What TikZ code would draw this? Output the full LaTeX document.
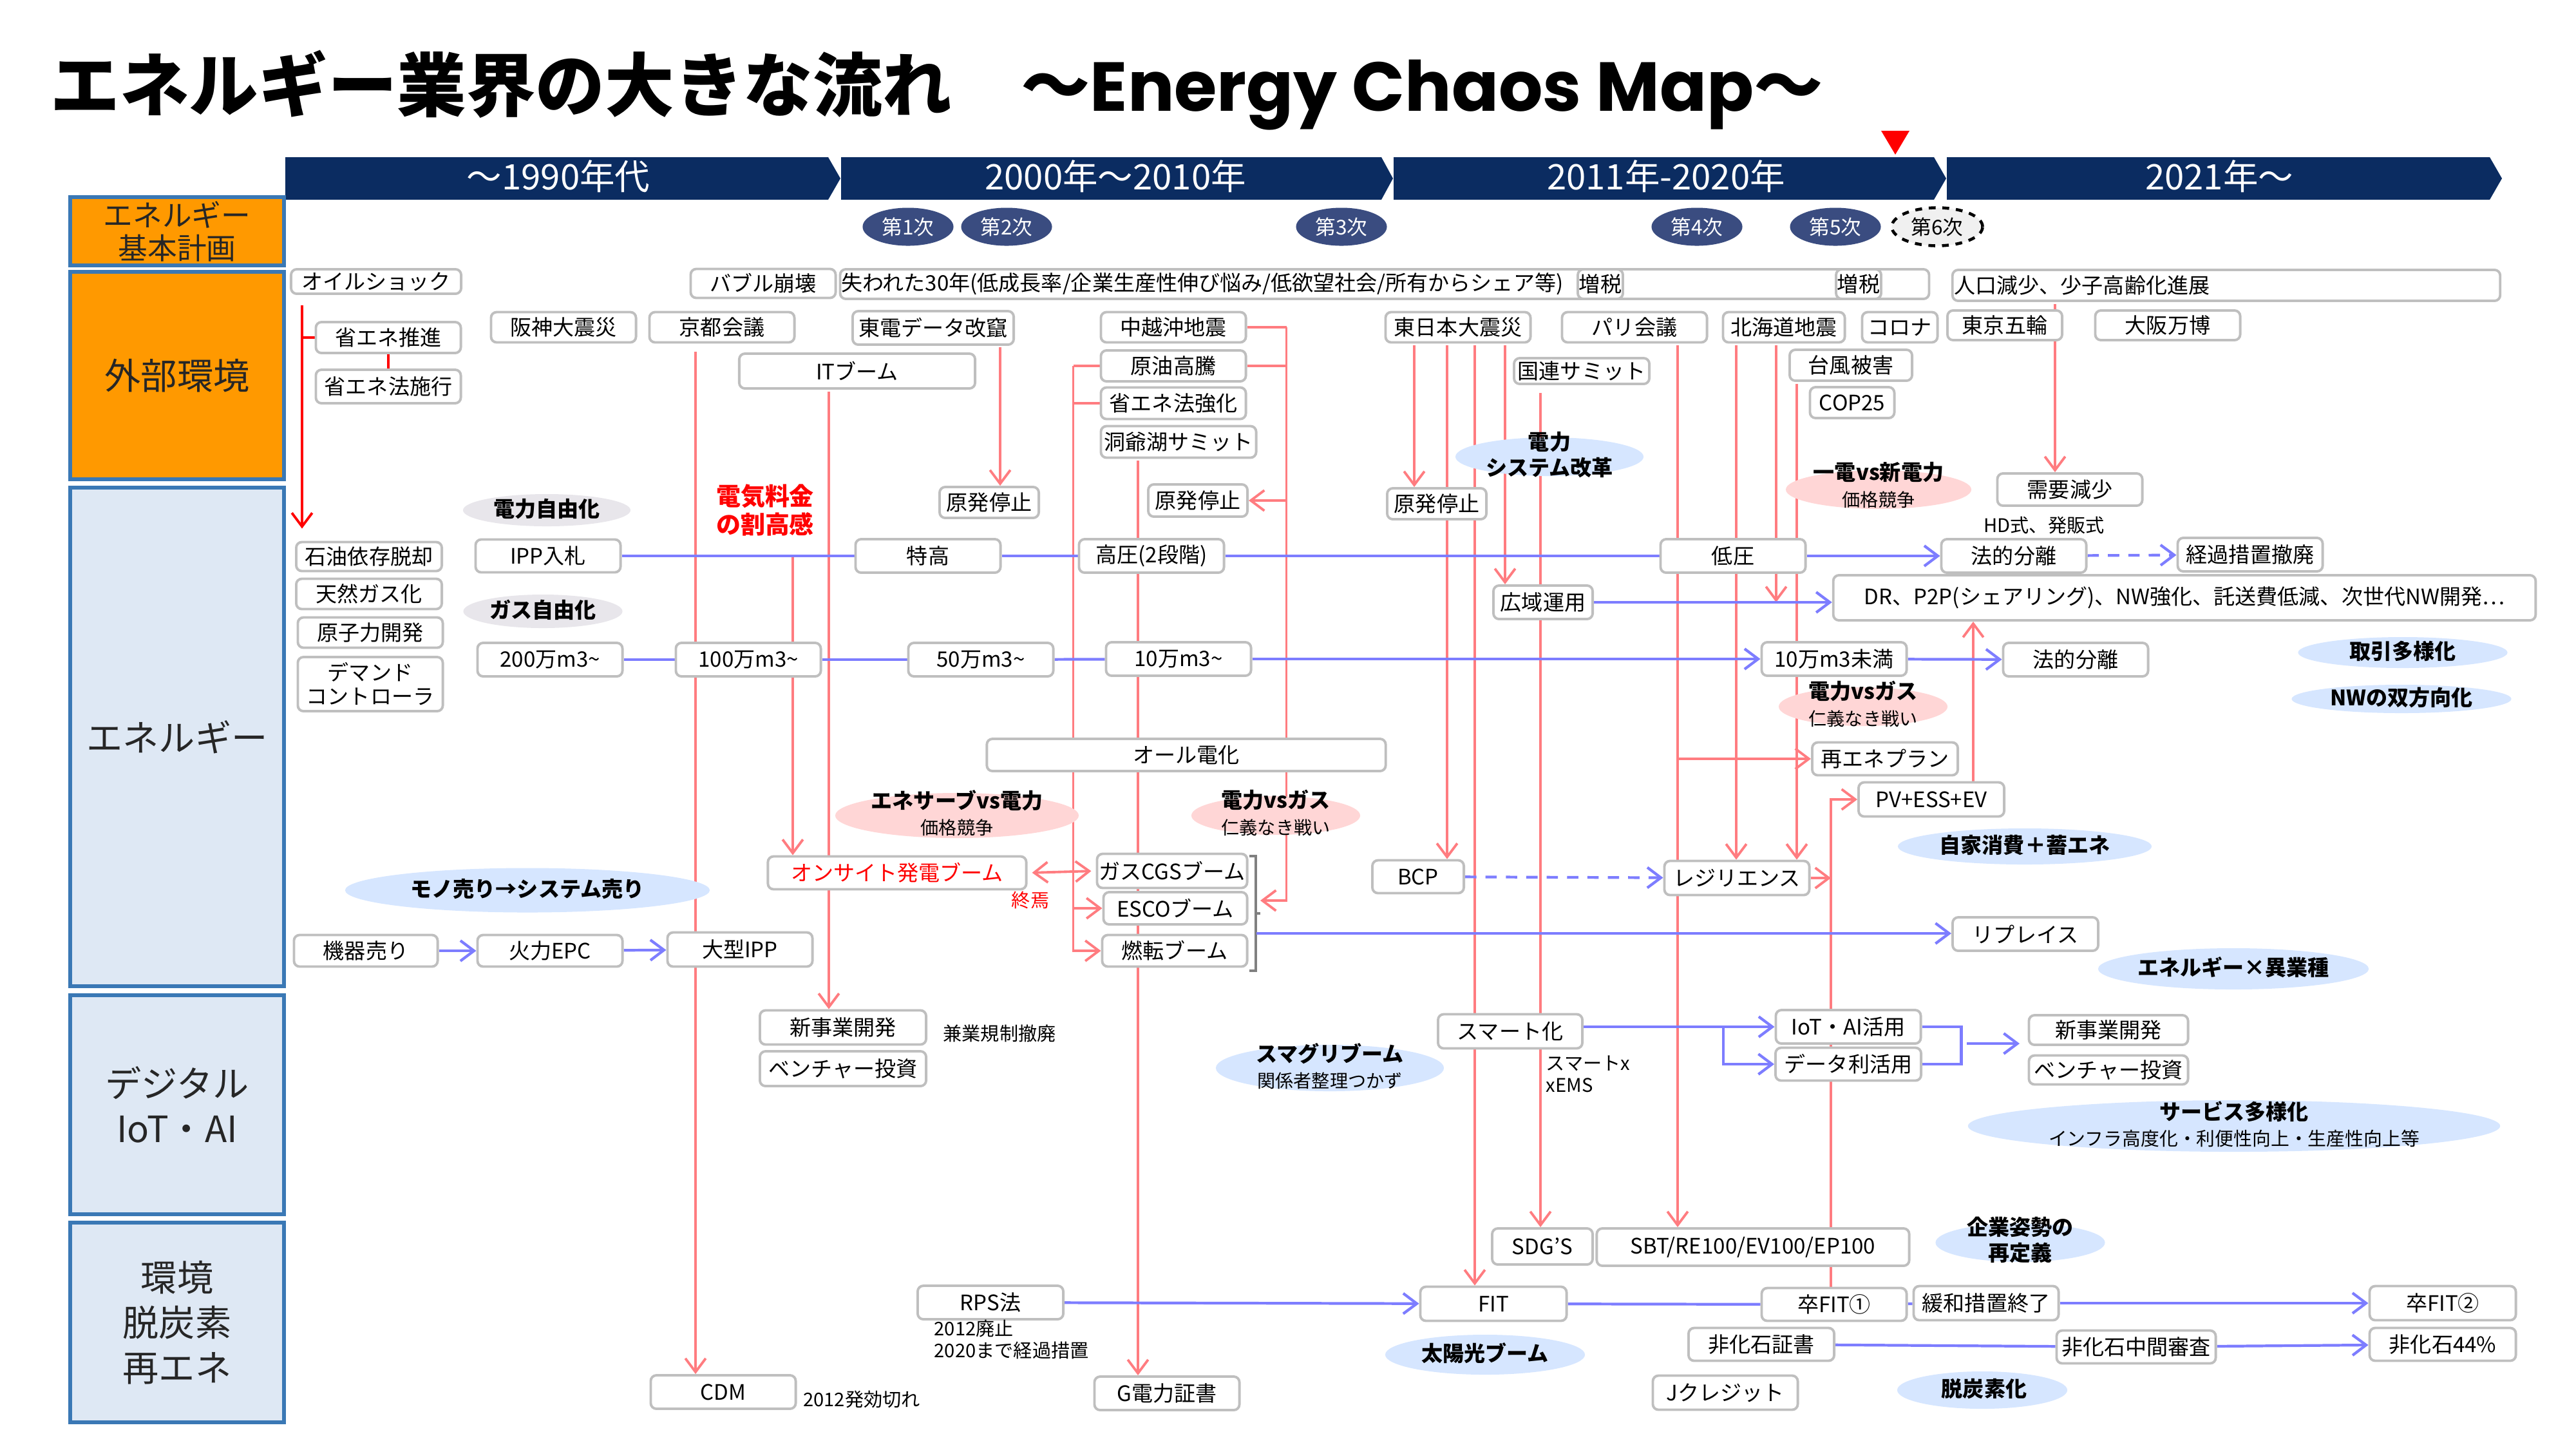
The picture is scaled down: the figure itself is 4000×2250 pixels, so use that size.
\documentclass[tikz,border=0pt]{standalone}
\usepackage{fontspec}
\setmainfont{Noto Sans CJK JP}
\newfontfamily\latinttl{Poppins}
\usetikzlibrary{shapes.geometric,arrows.meta,calc}

\definecolor{barnavy}{RGB}{11,44,97}
\definecolor{plannavy}{RGB}{58,76,128}
\definecolor{catblue}{RGB}{58,120,181}
\definecolor{catorange}{RGB}{255,153,0}
\definecolor{catpale}{RGB}{222,232,244}
\definecolor{boxgray}{RGB}{191,191,191}
\definecolor{evred}{RGB}{255,124,128}
\definecolor{flowblue}{RGB}{125,125,255}
\definecolor{blueedge}{RGB}{214,230,255}
\definecolor{bluecore}{RGB}{150,194,255}
\definecolor{pinkedge}{RGB}{255,214,214}
\definecolor{pinkcore}{RGB}{255,135,138}
\definecolor{grayedge}{RGB}{232,230,235}
\definecolor{graycore}{RGB}{176,170,184}
\definecolor{txtdark}{RGB}{38,38,38}

\newcommand{\boxfont}{\fontsize{9.4}{11}\selectfont}
\newcommand{\blobsub}[1]{{\mdseries\fontsize{8}{9.5}\selectfont #1}}

\pgfdeclarelayer{background}
\pgfsetlayers{background,main}

\begin{document}
\begin{tikzpicture}[x=0.01cm, y=-0.01cm,
    >={Straight Barb[length=6pt,width=9pt]},
    box/.style={draw=boxgray, line width=1.1pt, rounded corners=2.5pt, fill=white, inner sep=0pt,
        minimum width=2.25cm, minimum height=0.50cm, font=\boxfont},
    cat/.style={draw=catblue, line width=1.7pt, minimum width=3.31cm, inner sep=0pt, align=center,
        text=txtdark, font=\fontsize{16}{20}\selectfont},
    era/.style={text=white, inner sep=0pt, font=\fontsize{15.5}{18}\selectfont},
    plan/.style={ellipse, fill=plannavy, text=white, minimum width=1.41cm, minimum height=0.59cm,
        inner sep=0pt, font=\fontsize{9}{10}\selectfont},
    blueblob/.style={ellipse, inner sep=0pt, left color=blueedge, middle color=bluecore, right color=blueedge},
    redblob/.style={ellipse, inner sep=0pt, left color=pinkedge, middle color=pinkcore, right color=pinkedge},
    grayblob/.style={ellipse, inner sep=0pt, left color=grayedge, middle color=graycore, right color=grayedge},
    blobtext/.style={inner sep=0pt, align=center, font=\bfseries\fontsize{9.4}{11.5}\selectfont},
    note/.style={inner sep=0pt, align=left, font=\fontsize{8.3}{9.7}\selectfont},
    ev/.style={draw=evred, line width=1.1pt},
    flow/.style={draw=flowblue, line width=1.2pt},
    oilred/.style={draw=red, line width=1.1pt},
    brk/.style={draw=gray, line width=1pt}]

    \useasboundingbox (0,0) rectangle (4000,2250);

    % Title and time line
    \node[anchor=west, inner sep=0pt, font=\bfseries\fontsize{30.6}{34}\selectfont] (title) at (78,140)
        {エネルギー業界の大きな流れ　～{\latinttl\bfseries Energy Chaos Map}～};
    \fill[red] (2921,203) -- (2965,203) -- (2943,240) -- cycle;
    \fill[barnavy] (443,244) -- (1286,244) -- (1305,277) -- (1286,310) -- (443,310) -- cycle;
    \fill[barnavy] (1306,244) -- (2145,244) -- (2163,277) -- (2145,310) -- (1306,310) -- cycle;
    \fill[barnavy] (2164,244) -- (3003,244) -- (3022,277) -- (3003,310) -- (2164,310) -- cycle;
    \fill[barnavy] (3023,244) -- (3866,244) -- (3885,277) -- (3866,310) -- (3023,310) -- cycle;
    \node[era] (era1) at (867,274) {～1990年代};
    \node[era] (era2) at (1732,274) {2000年～2010年};
    \node[era] (era3) at (2587,274) {2011年-2020年};
    \node[era] (era4) at (3446,274) {2021年～};

    % Basic energy plans
    \node[plan] (plan1) at (1410,352) {第1次};
    \node[plan] (plan2) at (1563,352) {第2次};
    \node[plan] (plan3) at (2083,352) {第3次};
    \node[plan] (plan4) at (2635,352) {第4次};
    \node[plan] (plan5) at (2850,352) {第5次};
    \node[plan, fill=gray!12, draw=black, dashed, line width=1.3pt, text=black] (plan6) at (3008,352) {第6次};

    % Categories
    \node[cat, fill=catorange, minimum height=1.06cm, font=\fontsize{13}{14.5}\selectfont] (kihon) at (275,359) {エネルギー\\基本計画};
    \node[cat, fill=catorange, minimum height=3.21cm] (gaibu) at (275,583) {外部環境};
    \node[cat, fill=catpale, minimum height=7.74cm] (energy) at (275,1144) {エネルギー};
    \node[cat, fill=catpale, minimum height=3.40cm] (digital) at (275,1715) {デジタル\\IoT・AI};
    \node[cat, fill=catpale, minimum height=3.09cm] (kankyo) at (275,2053) {環境\\脱炭素\\再エネ};

    % External events
    \node[box, minimum width=2.64cm, minimum height=0.38cm] (oil) at (584,437) {オイルショック};
    \node[box, minimum height=0.45cm] (bubble) at (1185,440) {バブル崩壊};
    \node[box, minimum width=16.9cm, minimum height=0.46cm] (lost) at (2150,441) {};
    \node[anchor=west, inner sep=0pt, font=\boxfont] (lostT) at ($(lost.west)+(3,0)$)
        {失われた30年(低成長率/企業生産性伸び悩み/低欲望社会/所有からシェア等)};
    \node[box, minimum width=0.70cm, minimum height=0.46cm] (tax1) at (2485,441) {増税};
    \node[box, minimum width=0.70cm, minimum height=0.46cm] (tax2) at (2886,441) {増税};
    \node[box, minimum width=8.5cm, minimum height=0.48cm] (jinko) at (3457,443) {};
    \node[anchor=west, inner sep=0pt, font=\boxfont] (jinkoT) at ($(jinko.west)+(4,0)$) {人口減少、少子高齢化進展};

    \node[box, minimum height=0.48cm] (shoene) at (603,524) {省エネ推進};
    \node[box, minimum height=0.52cm] (shoeneho) at (603,600) {省エネ法施行};
    \node[box, minimum height=0.47cm] (hanshin) at (875,508) {阪神大震災};
    \node[box, minimum height=0.47cm] (kyoto) at (1121,508) {京都会議};
    \node[box, minimum width=2.50cm, minimum height=0.52cm] (toden) at (1449,509) {東電データ改竄};
    \node[box, minimum height=0.47cm] (chuetsu) at (1822,508) {中越沖地震};
    \node[box, minimum height=0.47cm] (shinsai) at (2264,508) {東日本大震災};
    \node[box, minimum height=0.47cm] (pari) at (2538,508) {パリ会議};
    \node[box, minimum width=1.89cm, minimum height=0.47cm] (hokkaido) at (2770,508) {北海道地震};
    \node[box, minimum width=1.17cm, minimum height=0.47cm] (corona) at (2950,508) {コロナ};
    \node[box, minimum width=1.78cm, minimum height=0.46cm] (gorin) at (3113,505) {東京五輪};
    \node[box, minimum height=0.46cm] (banpaku) at (3366,505) {大阪万博};

    \node[box, minimum width=3.66cm, minimum height=0.54cm] (itboom) at (1331,576) {ITブーム};
    \node[box, minimum height=0.48cm] (genyu) at (1822,568) {原油高騰};
    \node[box, minimum height=0.49cm] (shoenekyoka) at (1822,626) {省エネ法強化};
    \node[box, minimum width=2.41cm, minimum height=0.49cm] (toya) at (1830,686) {洞爺湖サミット};
    \node[box, minimum width=2.10cm, minimum height=0.40cm] (kokuren) at (2456,576) {国連サミット};
    \node[box, minimum width=1.90cm, minimum height=0.48cm] (taifu) at (2874,567) {台風被害};
    \node[box, minimum width=1.31cm, minimum height=0.48cm] (cop) at (2876,625) {COP25};

    \node[blueblob, minimum width=2.92cm, minimum height=0.60cm] (kaikaku) at (2406,709) {};
    \node[blobtext] (kaikakuT) at (2406,706) {電力\\システム改革};
    \node[redblob, minimum width=2.88cm, minimum height=0.60cm] (shinden) at (2917,760) {};
    \node[blobtext] (shindenT) at (2917,753) {一電vs新電力\\\blobsub{価格競争}};
    \node[box, minimum height=0.50cm] (juyo) at (3214,760) {需要減少};
    \node[note] (hd) at (3174,815) {HD式、発販式};

    % Energy
    \node[grayblob, minimum width=2.60cm, minimum height=0.50cm] (denjiyu) at (849,792) {};
    \node[blobtext] (denjiyuT) at (849,790) {電力自由化};
    \node[inner sep=0pt, align=center, text=red, font=\bfseries\fontsize{10.8}{12.3}\selectfont] (warudaka) at (1188,792) {電気料金\\の割高感};
    \node[box, minimum width=1.54cm, minimum height=0.48cm] (genpatsu1) at (1536,780) {原発停止};
    \node[box, minimum width=1.54cm, minimum height=0.50cm] (genpatsu2) at (1860,777) {原発停止};
    \node[box, minimum width=1.54cm, minimum height=0.48cm] (genpatsu3) at (2231,782) {原発停止};

    \node[box, minimum width=2.26cm, minimum height=0.45cm] (sekiyu) at (573,864) {石油依存脱却};
    \node[box, minimum width=2.26cm, minimum height=0.47cm] (tennen) at (573,922) {天然ガス化};
    \node[box, minimum height=0.47cm] (genshi) at (575,982) {原子力開発};
    \node[box, minimum height=0.84cm, align=center, font=\fontsize{9.4}{10.5}\selectfont] (demand) at (575,1062) {デマンド\\コントローラ};
    \node[box, minimum height=0.51cm] (ipp) at (851,863) {IPP入札};
    \node[grayblob, minimum width=2.47cm, minimum height=0.52cm] (gasjiyu) at (843,949) {};
    \node[blobtext] (gasjiyuT) at (843,947) {ガス自由化};
    \node[box, minimum height=0.52cm] (man200) at (854,1024) {200万m3\textasciitilde};

    \node[box, minimum height=0.52cm] (tokko) at (1441,863) {特高};
    \node[box, minimum height=0.52cm] (koatsu) at (1788,863) {高圧(2段階)};
    \node[box, minimum height=0.52cm] (teiatsu) at (2691,863) {低圧};
    \node[box, minimum height=0.52cm] (bunri1) at (3127,863) {法的分離};
    \node[box, minimum height=0.52cm] (keika) at (3494,861) {経過措置撤廃};
    \node[box, minimum width=1.54cm, minimum height=0.52cm] (koiki) at (2396,935) {広域運用};
    \node[box, minimum width=10.9cm, minimum height=0.70cm] (dr) at (3392,928)
        {DR、P2P(シェアリング)、NW強化、託送費低減、次世代NW開発…};

    \node[box, minimum height=0.52cm] (man100) at (1162,1024) {100万m3\textasciitilde};
    \node[box, minimum height=0.52cm] (man50) at (1523,1024) {50万m3\textasciitilde};
    \node[box, minimum height=0.52cm] (man10) at (1830,1023) {10万m3\textasciitilde};
    \node[box, minimum height=0.52cm] (miman) at (2848,1023) {10万m3未満};
    \node[box, minimum height=0.52cm] (bunri2) at (3223,1024) {法的分離};
    \node[redblob, minimum width=2.62cm, minimum height=0.60cm] (gasvs) at (2893,1097) {};
    \node[blobtext] (gasvsT) at (2893,1093) {電力vsガス\\\blobsub{仁義なき戦い}};
    \node[blueblob, minimum width=3.25cm, minimum height=0.48cm] (torihiki) at (3731,1013) {};
    \node[blobtext] (torihikiT) at (3731,1011) {取引多様化};
    \node[blueblob, minimum width=3.41cm, minimum height=0.44cm] (sohoko) at (3729,1085) {};
    \node[blobtext] (sohokoT) at (3729,1083) {NWの双方向化};

    \node[box, minimum width=6.19cm, minimum height=0.50cm] (allden) at (1842,1172) {オール電化};
    \node[box, minimum width=2.26cm, minimum height=0.51cm] (saiene) at (2927,1178) {再エネプラン};
    \node[box, minimum width=2.26cm, minimum height=0.53cm] (pv) at (2999,1241) {PV+ESS+EV};
    \node[blueblob, minimum width=3.94cm, minimum height=0.56cm] (jika) at (3144,1314) {};
    \node[blobtext] (jikaT) at (3144,1312) {自家消費＋蓄エネ};

    \node[redblob, minimum width=3.78cm, minimum height=0.70cm] (eneserve) at (1486,1266) {};
    \node[blobtext] (eneserveT) at (1486,1262) {エネサーブvs電力\\\blobsub{価格競争}};
    \node[redblob, minimum width=2.62cm, minimum height=0.60cm] (gasvs2) at (1981,1266) {};
    \node[blobtext] (gasvs2T) at (1981,1262) {電力vsガス\\\blobsub{仁義なき戦い}};
    \node[box, minimum width=4.01cm, minimum height=0.51cm, text=red] (onsite) at (1393,1355) {オンサイト発電ブーム};
    \node[note, text=red] (shuen) at (1600,1397) {終焉};
    \node[box, minimum width=2.33cm, minimum height=0.53cm] (gascgs) at (1820,1352) {ガスCGSブーム};
    \node[box, minimum width=2.23cm, minimum height=0.50cm] (esco) at (1825,1410) {ESCOブーム};
    \node[box, minimum height=0.49cm] (nenten) at (1824,1476) {燃転ブーム};
    \node[blueblob, minimum width=5.66cm, minimum height=0.69cm] (monouri) at (819,1382) {};
    \node[blobtext] (monouriT) at (819,1380) {モノ売り→システム売り};
    \node[box, minimum width=2.23cm, minimum height=0.49cm] (kiki) at (568,1476) {機器売り};
    \node[box, minimum height=0.49cm] (karyoku) at (854,1476) {火力EPC};
    \node[box, minimum height=0.53cm] (ogata) at (1149,1474) {大型IPP};
    \node[box, minimum width=1.42cm, minimum height=0.51cm] (bcp) at (2202,1361) {BCP};
    \node[box, minimum height=0.53cm] (resilience) at (2697,1363) {レジリエンス};
    \node[box, minimum width=2.26cm, minimum height=0.52cm] (replace) at (3145,1450) {リプレイス};
    \node[blueblob, minimum width=4.2cm, minimum height=0.64cm] (ishu) at (3468,1504) {};
    \node[blobtext] (ishuT) at (3468,1502) {エネルギー×異業種};

    % Digital
    \node[box, minimum width=2.58cm, minimum height=0.53cm] (shinjigyo1) at (1309,1595) {新事業開発};
    \node[box, minimum width=2.58cm, minimum height=0.54cm] (venture1) at (1309,1659) {ベンチャー投資};
    \node[note] (kengyo) at (1552,1604) {兼業規制撤廃};
    \node[blueblob, minimum width=3.54cm, minimum height=0.72cm] (sumaguri) at (2065,1658) {};
    \node[blobtext] (sumaguriT) at (2065,1655) {スマグリブーム\\\blobsub{関係者整理つかず}};
    \node[box, minimum width=2.24cm, minimum height=0.53cm] (smart) at (2345,1601) {スマート化};
    \node[note, anchor=west] (xems) at (2400,1667) {スマートx\\xEMS};
    \node[box, minimum height=0.52cm] (iot) at (2870,1594) {IoT・AI活用};
    \node[box, minimum width=2.26cm, minimum height=0.51cm] (data) at (2870,1652) {データ利活用};
    \node[box, minimum width=2.47cm, minimum height=0.46cm] (shinjigyo2) at (3274,1599) {新事業開発};
    \node[box, minimum width=2.47cm, minimum height=0.45cm] (venture2) at (3274,1661) {ベンチャー投資};
    \node[blueblob, minimum width=8.26cm, minimum height=0.80cm] (service) at (3469,1748) {};
    \node[blobtext] (serviceT) at (3469,1745) {サービス多様化\\{\mdseries\fontsize{8.2}{10}\selectfont インフラ高度化・利便性向上・生産性向上等}};

    % Environment
    \node[box, minimum width=1.56cm, minimum height=0.56cm] (sdgs) at (2395,1935) {SDG'S};
    \node[box, minimum width=4.85cm, minimum height=0.58cm] (sbt) at (2722,1936) {SBT/RE100/EV100/EP100};
    \node[blueblob, minimum width=2.63cm, minimum height=0.60cm] (kigyo) at (3137,1929) {};
    \node[blobtext] (kigyoT) at (3137,1925) {企業姿勢の\\再定義};
    \node[box, minimum width=2.26cm, minimum height=0.52cm] (rps) at (1538,2022) {RPS法};
    \node[note, anchor=north west] (rpsnote) at (1450,2048) {2012廃止\\2020まで経過措置};
    \node[box, minimum width=2.27cm, minimum height=0.53cm] (fit) at (2319,2024) {FIT};
    \node[box, minimum height=0.51cm] (sotsufit1) at (2848,2025) {卒FIT①};
    \node[box, minimum height=0.53cm] (kanwa) at (3084,2023) {緩和措置終了};
    \node[box, minimum width=2.27cm, minimum height=0.53cm] (sotsufit2) at (3793,2023) {卒FIT②};
    \node[box, minimum width=2.26cm, minimum height=0.51cm] (hikaseki) at (2735,2087) {非化石証書};
    \node[box, minimum width=2.47cm, minimum height=0.51cm] (chukan) at (3317,2091) {非化石中間審査};
    \node[box, minimum width=2.27cm, minimum height=0.51cm] (hika44) at (3793,2087) {非化石44\%};
    \node[blueblob, minimum width=3.10cm, minimum height=0.62cm] (taiyo) at (2306,2103) {};
    \node[blobtext] (taiyoT) at (2306,2101) {太陽光ブーム};
    \node[box, minimum height=0.53cm] (jcredit) at (2679,2162) {Jクレジット};
    \node[blueblob, minimum width=2.64cm, minimum height=0.58cm] (datsu) at (3078,2158) {};
    \node[blobtext] (datsuT) at (3081,2156) {脱炭素化};
    \node[box, minimum height=0.52cm] (cdm) at (1123,2161) {CDM};
    \node[note] (cdmnote) at (1338,2172) {2012発効切れ};
    \node[box, minimum height=0.52cm] (gshosho) at (1812,2163) {G電力証書};

    % Arrows
    \begin{pgfonlayer}{background}
    % oil shock
    \coordinate (oilV) at ($(oil.south west)+(19,16)$);
    \draw[oilred, ->, shorten >=0.19cm] (oilV) -- (oilV |- sekiyu.north);
    \draw[oilred] (oilV |- shoene.west) -- (shoene.west);
    \draw[oilred] (shoene.south) -- (shoeneho.north);

    % events
    \draw[ev, ->] ($(kyoto.south)+(-41,13)$) -- ($(cdm.north)+(-43,0)$);
    \draw[ev, ->] ($(itboom.south)+(-44,3)$) -- ($(shinjigyo1.north)+(-22,0)$);
    \draw[ev, ->] ($(toden.south)+(104,2)$) -- ($(genpatsu1.north)+(17,0)$);
    \coordinate (crudeV) at ($(genyu.west)+(-41,0)$);
    \draw[ev] (genyu.west) -- (crudeV);
    \draw[ev] (shoenekyoka.west) -- (shoenekyoka.west -| crudeV);
    \draw[ev, ->] (crudeV) |- (nenten.west);
    \draw[ev, ->] (esco.west -| crudeV) -- (esco.west);
    \draw[ev, ->] ($(toya.south)+(-63,3)$) -- ($(gshosho.north)+(-45,0)$);
    \coordinate (quakeV) at ($(chuetsu.east)+(61,0)$);
    \coordinate (boomR) at (1957,1398);
    \draw[ev] (chuetsu.east) -- (quakeV);
    \draw[ev] (genyu.east) -- (genyu.east -| quakeV);
    \draw[ev, ->] (genpatsu2.east -| quakeV) -- (genpatsu2.east);
    \draw[ev, ->] (quakeV) |- (boomR);
    \draw[ev, ->] ($(shinsai.south)+(-68,3)$) -- ($(genpatsu3.north)+(-35,0)$);
    \draw[ev, ->] ($(shinsai.south)+(-17,3)$) -- ($(bcp.north)+(45,0)$);
    \draw[ev, ->] ($(shinsai.south)+(26,3)$) -- ($(fit.north)+(-29,0)$);
    \draw[ev, ->] ($(shinsai.south)+(73,3)$) -- ($(koiki.north)+(-59,0)$);
    \draw[ev, ->] ($(kokuren.south)+(-64,12)$) -- ($(sdgs.north)+(-3,0)$);
    \coordinate (pariV) at ($(pari.south)+(67,3)$);
    \draw[ev, ->] (pariV) -- ($(sbt.north)+(-117,0)$);
    \draw[ev, ->] (pariV |- saiene.west) -- (saiene.west);
    \draw[ev, ->] ($(hokkaido.south)+(-74,3)$) -- ($(resilience.north)+(-1,0)$);
    \coordinate (hokV) at ($(hokkaido.south)+(-12,3)$);
    \draw[ev, ->] (hokV) -- (hokV |- koiki.east);
    \draw[ev, ->] ($(taifu.south)+(-84,3)$) -- ($(resilience.north)+(93,0)$);
    \coordinate (pvV) at ($(sotsufit1.north)+(-5,0)$);
    \draw[ev, ->] (pvV) |- (pv.west);
    \draw[ev, ->] (resilience.east) -- (resilience.east -| pvV);
    \coordinate (drV) at ($(pv.north)+(65,0)$);
    \draw[ev, ->] (drV) -- (drV |- dr.south);
    \draw[ev, ->] ($(jinko.south)+(-266,3)$) -- ($(juyo.north)+(-23,0)$);
    \coordinate (priceV) at (1231,863);
    \draw[ev, ->] (priceV) -- (priceV |- onsite.north);
    \draw[ev, <->, shorten <=2pt, shorten >=2pt] (onsite.east) -- (gascgs.west);
    \draw[brk] (1940,1329) -- (1950,1329) -- (1950,1507) -- (1940,1507);
    \draw[brk] (1950,1418) -- (1957,1418);

    % flows
    \draw[flow] (ipp) -- (tokko);
    \draw[flow] (tokko) -- (koatsu);
    \draw[flow] (koatsu) -- (teiatsu);
    \draw[flow, ->] (teiatsu) -- (bunri1);
    \draw[flow, ->, dash pattern=on 5pt off 4pt] (bunri1) -- (keika);
    \draw[flow] (man200) -- (man100);
    \draw[flow] (man100) -- (man50);
    \draw[flow] (man50) -- (man10);
    \draw[flow, ->] (man10) -- (miman);
    \draw[flow, ->] (miman) -- (bunri2);
    \draw[flow, ->] (koiki.east) -- (koiki.east -| dr.west);
    \draw[flow, ->, dash pattern=on 5pt off 4pt] (bcp) -- (resilience);
    \draw[flow, ->] (kiki) -- (karyoku);
    \draw[flow, ->] (karyoku) -- (ogata);
    \coordinate (boomL) at (1951,1449);
    \draw[flow, ->] (boomL) -- (boomL -| replace.west);
    \draw[flow, ->] (rps) -- (fit);
    \draw[flow] (fit) -- (sotsufit1);
    \draw[flow] (sotsufit1) -- (kanwa);
    \draw[flow, ->] (kanwa) -- (sotsufit2);
    \draw[flow] (hikaseki) -- (chukan);
    \draw[flow, ->] (chukan) -- (hika44);
    \draw[flow, ->] (smart.east |- iot.west) -- (iot.west);
    \coordinate (smartV) at (2676,1594);
    \draw[flow, ->] (smartV) |- (data.west);
    \draw[flow] (iot.east) -- ++(61,0) |- (data.east);
    \coordinate (digiV) at (3054,1620);
    \draw[flow, ->] (digiV) -- ++(82,0);
    \end{pgfonlayer}
\end{tikzpicture}
\end{document}
